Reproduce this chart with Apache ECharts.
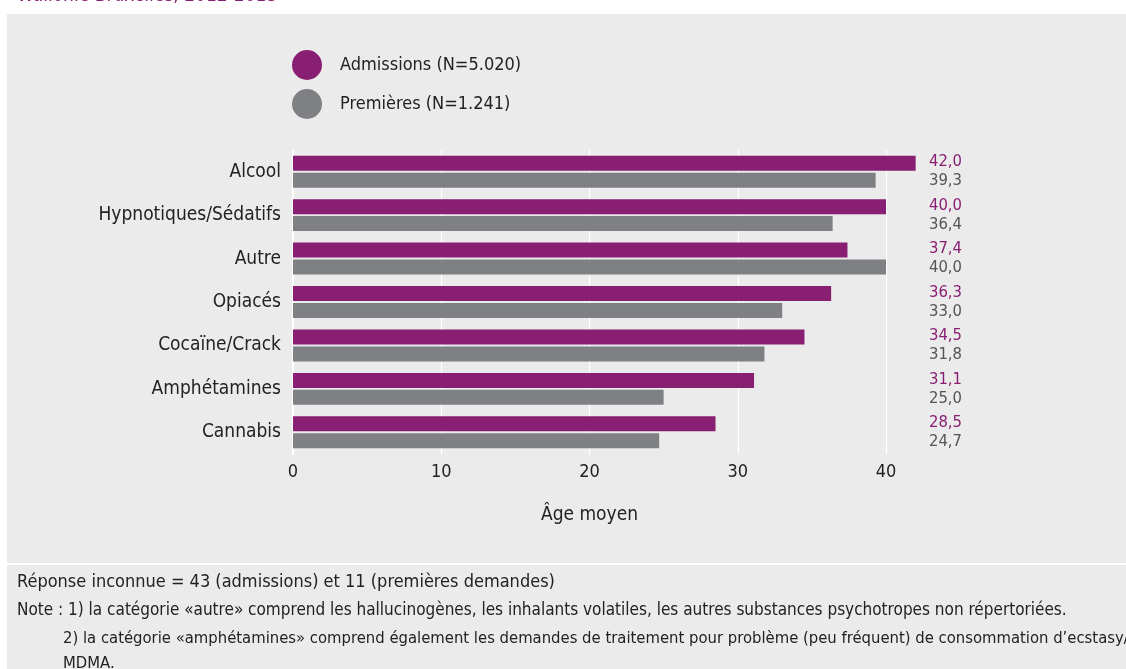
<!DOCTYPE html>
<html>
<head>
<meta charset="utf-8">
<script src="https://cdn.jsdelivr.net/npm/echarts@6/dist/echarts.min.js"></script>
<style>
html,body{margin:0;padding:0;background:#fff;}
#c{width:1126px;height:669px;}
</style>
</head>
<body>
<div id="c"></div>
<script>
var categories = ['Alcool', 'Hypnotiques/Sédatifs', 'Autre', 'Opiacés', 'Cocaïne/Crack', 'Amphétamines', 'Cannabis'];
var admissions = [42.0, 40.0, 37.4, 36.3, 34.5, 31.1, 28.5];
var premieres = [39.3, 36.4, 40.0, 33.0, 31.8, 25.0, 24.7];
var seriesNames = ['Admissions (N=5.020)', 'Premières (N=1.241)'];
var xTicks = [0, 10, 20, 30, 40];
var titleText = 'Wallonie-Bruxelles, 2012-2013';
var noteLines = [
  'Réponse inconnue = 43 (admissions) et 11 (premières demandes)',
  'Note : 1) la catégorie «autre» comprend les hallucinogènes, les inhalants volatiles, les autres substances psychotropes non répertoriées.',
  '2) la catégorie «amphétamines» comprend également les demandes de traitement pour problème (peu fréquent) de consommation d’ecstasy/',
  'MDMA.'
];

var FONT = '"Liberation Sans Narrow", "DejaVu Sans Condensed", "Roboto Condensed", sans-serif';
var PURPLE = '#891f72';
var GREY = '#7f8084';

function fmt(v) { return v.toFixed(1).replace('.', ','); }

var chart = echarts.init(document.getElementById('c'), null, {renderer: 'canvas'});
chart.setOption({
  backgroundColor: '#ffffff',
  animation: false,
  textStyle: {fontFamily: FONT},
  graphic: [
    {type: 'rect', z: -10, silent: true, shape: {x: 7, y: 14, width: 1119, height: 549}, style: {fill: '#ebebeb'}},
    {type: 'rect', z: -10, silent: true, shape: {x: 7, y: 565, width: 1119, height: 104}, style: {fill: '#ebebeb'}},
    {type: 'text', left: 17, top: -13, style: {text: titleText, fill: PURPLE, font: '19px ' + FONT}},
    {type: 'text', left: 17, top: 573, style: {text: noteLines[0], fill: '#222', font: '18px ' + FONT}},
    {type: 'text', left: 17, top: 602, style: {text: noteLines[1], fill: '#222', font: '17px ' + FONT}},
    {type: 'text', left: 63, top: 630, style: {text: noteLines[2], fill: '#222', font: '16.5px ' + FONT}},
    {type: 'text', left: 63, top: 655, style: {text: noteLines[3], fill: '#222', font: '16.5px ' + FONT}}
  ],
  legend: {
    orient: 'vertical',
    left: 292,
    top: 50,
    padding: 0,
    icon: 'circle',
    itemWidth: 30,
    itemHeight: 30,
    itemGap: 9,
    data: seriesNames,
    textStyle: {fontFamily: FONT, fontSize: 18, color: '#222', padding: [0, 0, 0, 13]}
  },
  grid: {left: 293, right: 240, top: 150, bottom: 215, containLabel: false},
  xAxis: {
    type: 'value',
    min: xTicks[0],
    max: xTicks[xTicks.length - 1],
    interval: 10,
    name: 'Âge moyen',
    nameLocation: 'middle',
    nameGap: 52,
    nameTextStyle: {fontFamily: FONT, fontSize: 19, color: '#222'},
    axisLine: {show: false},
    axisTick: {show: false},
    axisLabel: {fontFamily: FONT, fontSize: 18, color: '#222', margin: 9},
    splitLine: {show: true, lineStyle: {color: '#ffffff', width: 1.2}}
  },
  yAxis: [
    {
      type: 'category',
      data: categories,
      inverse: true,
      axisLine: {show: true, lineStyle: {color: '#ffffff', width: 2}},
      axisTick: {show: false},
      axisLabel: {fontFamily: FONT, fontSize: 19, color: '#222', margin: 12}
    },
    {
      type: 'category',
      data: categories,
      inverse: true,
      position: 'right',
      axisLine: {show: false},
      axisTick: {show: false},
      axisLabel: {
        margin: 76,
        align: 'right',
        formatter: function (v, i) {
          return '{a|' + fmt(admissions[i]) + '}\n{b|' + fmt(premieres[i]) + '}';
        },
        rich: {
          a: {fontFamily: FONT, fontSize: 16.5, color: PURPLE, lineHeight: 19, align: 'right'},
          b: {fontFamily: FONT, fontSize: 16.5, color: '#555', lineHeight: 19, align: 'right'}
        }
      }
    }
  ],
  series: [
    {
      name: seriesNames[0],
      type: 'bar',
      data: admissions,
      itemStyle: {color: PURPLE},
      barWidth: 15,
      barGap: '13%',
      barCategoryGap: '26%',
      clip: false
    },
    {
      name: seriesNames[1],
      type: 'bar',
      data: premieres,
      itemStyle: {color: GREY},
      barWidth: 15,
      barGap: '13%',
      barCategoryGap: '26%',
      clip: false
    }
  ]
});
</script>
</body>
</html>
